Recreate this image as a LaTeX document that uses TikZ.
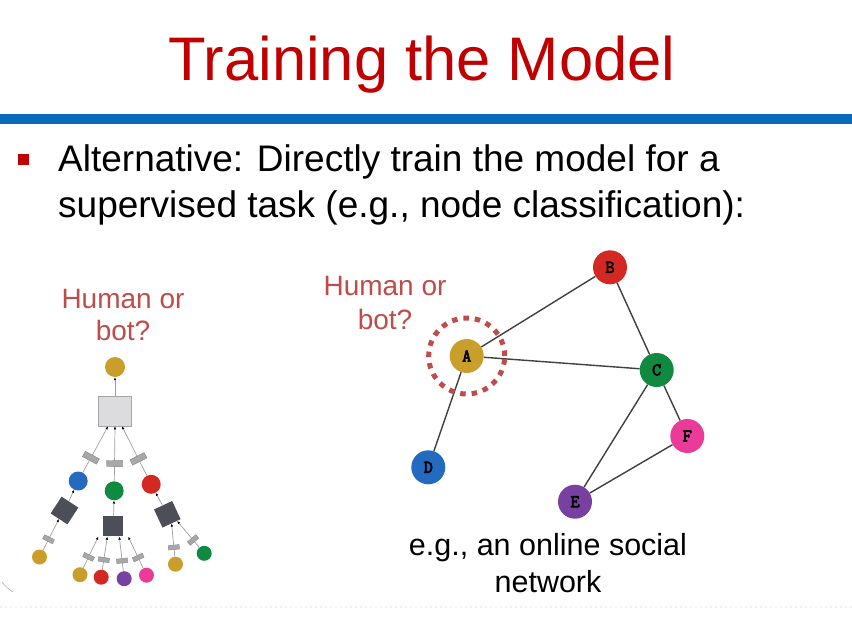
\documentclass[tikz,border=0pt]{standalone}
\usepackage{fontspec}
\setmainfont{Liberation Sans}
\newfontfamily\lblfont{Latin Modern Mono}[FakeBold=3.5]
\usetikzlibrary{arrows.meta,calc}

\definecolor{titlered}{RGB}{192,0,0}
\definecolor{barblue}{RGB}{8,108,186}
\definecolor{askred}{RGB}{190,76,74}
\definecolor{ngold}{RGB}{201,158,42}
\definecolor{nred}{RGB}{212,40,34}
\definecolor{ngreen}{RGB}{16,138,64}
\definecolor{npink}{RGB}{236,58,152}
\definecolor{nblue}{RGB}{36,106,190}
\definecolor{npurple}{RGB}{120,64,160}
\definecolor{edgegray}{RGB}{64,64,64}
\definecolor{boxfill}{RGB}{220,220,223}
\definecolor{boxline}{RGB}{165,165,168}
\definecolor{darksq}{RGB}{76,79,88}
\definecolor{barfill}{RGB}{168,168,170}
\definecolor{barline}{RGB}{135,135,138}
\definecolor{treeline}{RGB}{160,160,162}

\tikzset{
  fsize/.style={font=\fontsize{#1}{#1}\selectfont},
  gnode/.style={circle, fill=#1, minimum size=34pt, inner sep=0pt,
    font=\lblfont\fontsize{18}{18}\selectfont},
  gedge/.style={draw=edgegray, line width=1.4pt},
  tcirc/.style={circle, fill=#1, minimum size=19pt, inner sep=0pt},
  tleaf/.style={circle, fill=#1, minimum size=15pt, inner sep=0pt},
  lightbox/.style={draw=boxline, fill=boxfill, line width=0.6pt,
    minimum width=33pt, minimum height=30pt, inner sep=0pt},
  darkbox/.style={fill=darksq, minimum size=20pt, inner sep=0pt},
  wbar/.style={draw=barline, fill=barfill, line width=0.4pt, sloped,
    minimum width=6pt, minimum height=16pt, inner sep=0pt},
  wbarsmall/.style={wbar, minimum width=4.5pt, minimum height=11pt},
  tedge/.style={draw=treeline, line width=0.7pt,
    -{Latex[length=3pt,width=2.6pt,color=black]}},
}

\begin{document}
\begin{tikzpicture}[x=1pt,y=-1pt]
\useasboundingbox (0,0) rectangle (852,619);
\fill[white] (0,0) rectangle (852,619);

% heading and rule
\node[anchor=base, fsize=61.5, text=titlered, inner sep=0pt] (title) at (422,80) {Training the Model};
\fill[barblue] (0,114) rectangle (852,124);

% bullet point
\node[fill=titlered, minimum size=11pt, inner sep=0pt] (bullet) at (23.5,159) {};
\node[anchor=base west, fsize=37, inner sep=0pt] (line1) at (58,171)
  {Alternative: Directly train the model for a};
\node[anchor=base west, fsize=37, inner sep=0pt] (line2) at (58,217)
  {supervised task (e.g., node classification):};

% ---- computation tree (left) ----
\node[anchor=base, fsize=28, text=askred, inner sep=0pt] (askL1) at (123,308) {Human or};
\node[anchor=base, fsize=28, text=askred, inner sep=0pt] (askL2) at (123,340) {bot?};

\node[tcirc=ngold, minimum size=20pt] (top) at (115,367) {};
\node[lightbox] (root) at (115,411) {};
\draw[tedge] (root) -- (top);

\node[tcirc=nblue]  (lb) at (78.2,481) {};
\node[tcirc=ngreen] (lg) at (114.2,490.8) {};
\node[tcirc=nred]   (lr) at (151.2,484.3) {};

\draw[tedge] (lb) -- node[wbar, pos=0.32] (w1) {} ([xshift=-7pt]root.south);
\draw[tedge] (lg) -- node[wbar, pos=0.32] (w2) {} (root.south);
\draw[tedge] (lr) -- node[wbar, pos=0.34] (w3) {} ([xshift=7pt]root.south);

\node[darkbox, rotate=-33] (sqL) at (64.5,510.5) {};
\node[darkbox] (sqM) at (113.3,525.5) {};
\node[darkbox, rotate=25] (sqR) at (167.3,514.3) {};

\draw[tedge] (sqL) -- (lb);
\draw[tedge] (sqM) -- (lg);
\draw[tedge] (sqR) -- (lr);

% leaves
\node[tleaf=ngold]   (a1) at (39.5,557) {};
\node[tleaf=ngold]   (b1) at (80,574.7) {};
\node[tleaf=nred]    (b2) at (101.2,577.2) {};
\node[tleaf=npurple] (b3) at (124.2,578.7) {};
\node[tleaf=npink]   (b4) at (146.5,575.2) {};
\node[tleaf=ngold]   (c1) at (175.5,564.2) {};
\node[tleaf=ngreen]  (c2) at (204.2,553.3) {};

\draw[tedge] (a1) -- node[wbarsmall, pos=0.35] (w4) {} (sqL.south);
\draw[tedge] (b1) -- node[wbarsmall, pos=0.35] (w5) {} ([xshift=-15pt,yshift=-1pt]sqM.south);
\draw[tedge] (b2) -- node[wbarsmall, pos=0.30] (w6) {} ([xshift=-6pt,yshift=-1pt]sqM.south);
\draw[tedge] (b3) -- node[wbarsmall, pos=0.30] (w7) {} ([xshift=6pt,yshift=-1pt]sqM.south);
\draw[tedge] (b4) -- node[wbarsmall, pos=0.34] (w8) {} ([xshift=15pt,yshift=-1pt]sqM.south);
\draw[tedge] (c1) -- node[wbarsmall, pos=0.28] (w9) {} (sqR.south);
\draw[tedge] (c2) -- node[wbarsmall, pos=0.28] (w10) {} ($(sqR.south)!0.6!(sqR.south east)$);

% ---- social network (right) ----
\node[anchor=base, fsize=28, text=askred, inner sep=0pt] (askR1) at (385,295) {Human or};
\node[anchor=base, fsize=28, text=askred, inner sep=0pt] (askR2) at (385,329) {bot?};

\node[gnode=ngold]   (A) at (466.7,356) {A};
\node[gnode=nred]    (B) at (610,267.3) {B};
\node[gnode=ngreen]  (C) at (656.7,370) {C};
\node[gnode=nblue]   (D) at (428.3,467.3) {D};
\node[gnode=npurple] (E) at (575,501.7) {E};
\node[gnode=npink]   (F) at (687.3,436) {F};

\draw[gedge] (A) -- (B);
\draw[gedge] (A) -- (C);
\draw[gedge] (A) -- (D);
\draw[gedge] (B) -- (C);
\draw[gedge] (C) -- (E);
\draw[gedge] (C) -- (F);
\draw[gedge] (F) -- (E);

\node[circle, draw=askred, line width=5pt, dash pattern=on 5.5pt off 6pt,
  minimum size=76pt, inner sep=0pt] (ring) at (A) {};

\node[anchor=base, fsize=30.5, inner sep=0pt] (cap1) at (548,555) {e.g., an online social};
\node[anchor=base, fsize=30.5, inner sep=0pt] (cap2) at (548,592) {network};

% faint marks near the lower edge
\draw[black!35, line width=0.5pt] (2,582) .. controls (6,587) .. (13,592);
\draw[black!6, line width=2pt, dash pattern=on 2pt off 3pt] (0,607) -- (852,607);
\end{tikzpicture}
\end{document}
